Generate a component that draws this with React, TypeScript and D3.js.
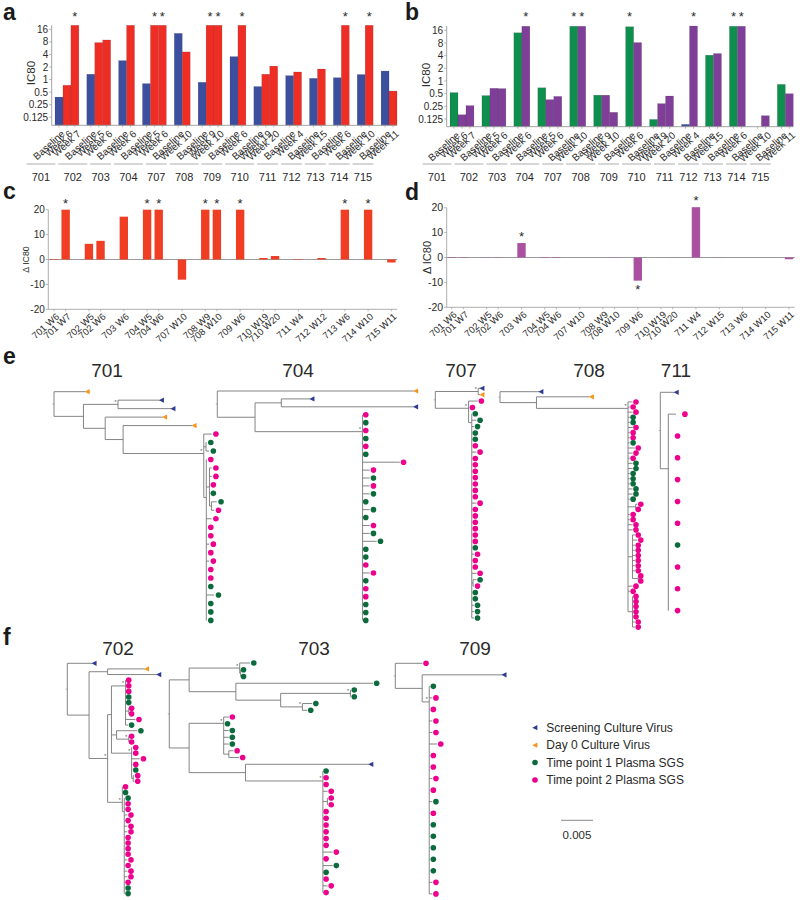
import React from 'react';
import * as d3 from 'd3';

const FONT = '"Liberation Sans", Arial, sans-serif';

// IC80 panels a and b
const patients = ['701', '702', '703', '704', '707', '708', '709', '710', '711', '712', '713', '714', '715'];
const visitWeeks = [
    ['Baseline', 'Week 6', 'Week 7'],
    ['Baseline', 'Week 5', 'Week 6'],
    ['Baseline', 'Week 6'],
    ['Baseline', 'Week 5', 'Week 6'],
    ['Baseline', 'Week 10'],
    ['Baseline', 'Week 9', 'Week 10'],
    ['Baseline', 'Week 6'],
    ['Baseline', 'Week 19', 'Week 20'],
    ['Baseline', 'Week 4'],
    ['Baseline', 'Week 15'],
    ['Baseline', 'Week 6'],
    ['Baseline', 'Week 10'],
    ['Baseline', 'Week 11'],
];
const aValues = [
    [0.38, 0.73, 20], [1.34, 7.7, 8.9], [2.85, 20], [0.8, 20, 20], [12.8, 4.6], [0.86, 20, 20], [3.55, 20],
    [0.68, 1.34, 2.1], [1.24, 1.52], [1.07, 1.79], [1.11, 20], [1.32, 20], [1.6, 0.53],
];
const bValues = [
    [0.53, 0.158, 0.26], [0.45, 0.67, 0.66], [14, 20], [0.69, 0.36, 0.43], [20, 20], [0.46, 0.46, 0.18], [19.5, 8.2],
    [0.122, 0.29, 0.44], [0.093, 20.3], [4.1, 4.5], [20, 20], [0, 0.15], [0.83, 0.5],
];
const aStars = ['701 Week 7', '704 Week 5', '704 Week 6', '708 Week 9', '708 Week 10', '709 Week 6', '713 Week 6', '714 Week 10'];
const bStars = ['703 Week 6', '707 Baseline', '707 Week 10', '709 Baseline', '711 Week 4', '713 Baseline', '713 Week 6'];
const bBlueBars = ['711 Baseline'];
const log2Ticks = [16, 8, 4, 2, 1, 0.5, 0.25, 0.125];

// delta IC80 panels c and d
const cLabels = [
    ['701 W6', '701 W7'], ['702 W5', '702 W6'], ['703 W6'], ['704 W5', '704 W6'], ['707 W10'], ['708 W9', '708 W10'],
    ['709 W6'], ['710 W19', '710 W20'], ['711 W4'], ['712 W12'], ['713 W6'], ['714 W10'], ['715 W11'],
];
const dLabels = [
    ['701 W6', '701 W7'], ['702 W5', '702 W6'], ['703 W6'], ['704 W5', '704 W6'], ['707 W10'], ['708 W9', '708 W10'],
    ['709 W6'], ['710 W19', '710 W20'], ['711 W4'], ['712 W15'], ['713 W6'], ['714 W10'], ['715 W11'],
];
const cValues = [0.2, 20, 6.3, 7.5, 17.2, 20, 20, -8.1, 20, 20, 20, 0.6, 1.4, 0.2, 0.6, 20, 20, -1.2];
const dValues = [-0.2, -0.15, -0.1, -0.1, 5.8, -0.2, -0.2, 0, 0, -0.1, -9.3, 0, 0.1, 20.2, 0.1, 0, 0, -0.7];
const cStars = ['701 W7', '704 W5', '704 W6', '708 W9', '708 W10', '709 W6', '713 W6', '714 W10'];
const dStars = ['703 W6', '709 W6', '711 W4'];
const deltaTicks = [20, 10, 0, -10, -20];

// Trees. Leaf: [depth, kind]. Node: [depth, children, row?, support?]. Depth is divergence x 10^4 from the root.
type Kind = 'p' | 'g' | 's' | 'd';
type TreeNode = [number, Kind] | [number, TreeNode[], (number | null)?, number?];
const P: Kind = 'p';
const G: Kind = 'g';
const S: Kind = 's';
const D: Kind = 'd';

const tree701: TreeNode = [0, [
    [52, D],
    [46, [
        [100, [[168, S], [186, S]], null, 1],
        [80, [
            [173, D],
            [108, [
                [219, D],
                [234, [
                    [253, P],
                    [237.5, [[245, G], [249, G]]],
                    [238, [
                        [245, P],
                        [243, [[253, P], [253, P], [249, P], [249, G], [246, [[261, G], [257, P]]]]],
                        [253, P], [245, P], [245, P], [249, P], [245, P], [249, P], [245, P], [245, P],
                        [245, G], [257, G], [245, G], [245, G], [245, G],
                    ], 12.5],
                ], 7.3, 1],
            ]],
        ]],
    ]],
]];

const tree704: TreeNode = [0, [
    [310, D],
    [59, [
        [100, [[148, S], [310, S]]],
        [227, [
            [232, P], [232, G], [232, P], [232, G], [232, P], [232, G], [291, P], [244, P], [244, G], [244, P], [244, G],
            [232, G], [244, G], [232, G], [244, P], [244, G], [255, G], [232, G], [232, G], [232, P], [244, P], [232, G],
            [232, P], [232, P], [232, G], [232, G], [232, G],
        ], 5.14, 1],
    ]],
]];

const tree707: TreeNode = [0, [
    [67, [[73, S], [73, D]], null, 1],
    [52, [
        [72, P],
        [58, P],
        [57, [
            [62.5, G], [70, G], [66, G], [62.5, G], [62.5, G], [62.5, P], [70, P], [62.5, P], [62.5, P], [62.5, P],
            [62.5, P], [62.5, P], [62.5, P], [62.5, P], [70, P], [62.5, P], [62.5, P], [62.5, P], [62.5, P], [62.5, P],
            [62.5, P], [62.5, G], [66, P], [62.5, P], [62.5, P], [70, P], [59, [[70, G], [66, P]]], [62.5, G], [62.5, G],
            [66, G], [66, G], [66, G],
        ], 5.38],
    ], 3.13, 1],
]];

const tree708: TreeNode = [0, [
    [64, S],
    [57, [
        [143, D],
        [200, [
            [212.5, P], [208, P], [212.5, P], [208, G], [208, G], [212.5, P], [208, P], [208, P], [208, G], [216, P],
            [212.5, P], [208, P], [212.5, G], [212.5, G], [208, G], [208, G], [208, G], [212.5, G], [212.5, G], [208, G],
            [212, [[220, P], [216, P]]], [208, P], [208, P], [212.5, P], [212.5, P],
            [207, [[216, P], [220, P], [216, P], [216, P], [216, P], [216, P], [216, P], [216, P], [216, [[220, P], [220, P]]]]],
            [212.5, P], [208, P],
            [207, [[212.5, P], [212.5, P], [212.5, P], [212.5, P], [212.5, P], [216, P], [216, P]]],
        ], 3.26, 1],
    ]],
]];

const tree711: TreeNode = [0, [
    [25, S],
    [12.5, [[38.5, P], [27, P], [27, P], [27, P], [27, P], [27, P], [27, G], [27, P], [27, P], [27, P]], 3.5],
]];

const tree702: TreeNode = [0, [
    [42, S],
    [34, [
        [63, [[124, D], [143, S]]],
        [63, [
            [69, [
                [91, [
                    [96, P], [96, P], [96, P], [96, G], [96, G], [96, [[100.5, P], [100.5, P]]], [112, P], [100.5, G],
                ], 4.03, 1],
                [77, [[115, G], [96, [[100.5, P], [100.5, P]], null, 1]]],
                [100.5, [
                    [107, P], [107, P], [119, P], [107, P], [107, G], [103, [[110, P], [110, P]]],
                ], 16, 1],
            ], 9.14],
            [86, [
                [91, P],
                [91, G],
                [89, [
                    [95, G], [95, P], [95, P], [99.5, P], [95, P], [99.5, P], [99.5, P], [95, P], [95, P], [95, P], [95, P],
                    [99.5, P], [95, P], [99.5, P], [99.5, P], [95, P], [95, G], [95, G],
                ], 26.4],
            ], 24.75, 1],
        ], null, 1],
    ]],
]];

const tree703: TreeNode = [0, [
    [31, [
        [110, [[132, G], [111.5, [[116, G], [116, G]]]], null, 1],
        [104, [
            [324, G],
            [174, [
                [283, [[289, G], [289, G]], null, 1],
                [208, [[229, G], [221, G]], null, 1],
            ]],
        ]],
    ]],
    [31, [
        [85, [
            [98.5, P], [91, G], [98.5, G], [98.5, G], [98.5, G], [93, [[106, P], [114.6, P]]],
        ], 8.93, 1],
        [119, [
            [315, S],
            [240, [
                [245, G], [245, P], [245, P], [253, P], [247, [[253, P], [253, P]]], [245, P], [245, P], [245, P], [245, P],
                [245, P], [245, P], [261, P], [245, P], [261, G], [245, G], [245, P], [253, P], [245, P],
            ], 17.47, 1],
        ]],
    ]],
]];

const tree709: TreeNode = [0, [
    [48, P],
    [42, [
        [170, S],
        [53, [
            [59.4, G], [63.5, P], [59.4, P], [63.5, P], [63.5, P], [71, P], [59.4, P], [59.4, P], [63.5, P], [59.4, P],
            [63.5, G], [59.4, P], [59.4, G], [59.4, G], [59.4, G], [59.4, G], [59.4, G], [63.5, P], [63.5, P],
        ], 3.35, 1],
    ]],
]];

const treePanels = [
    { name: '701', tree: tree701, x0: 54, y0: 391.7, rowH: 8.47, tx: 107, ty: 377, gap: 4.3 },
    { name: '704', tree: tree704, x0: 217.3, y0: 391, rowH: 7.91, tx: 298, ty: 377, gap: 3.8 },
    { name: '707', tree: tree707, x0: 435.3, y0: 388.3, rowH: 6.38, tx: 461, ty: 377, gap: 3.6 },
    { name: '708', tree: tree708, x0: 500, y0: 391.7, rowH: 5.117, tx: 589, ty: 377, gap: 3.4 },
    { name: '711', tree: tree711, x0: 660.3, y0: 392.3, rowH: 21.83, tx: 676, ty: 377, gap: 9 },
    { name: '702', tree: tree702, x0: 67.3, y0: 663.3, rowH: 5.617, tx: 118, ty: 655, gap: 3.6 },
    { name: '703', tree: tree703, x0: 169.3, y0: 663, rowH: 6.753, tx: 314, ty: 655, gap: 3.6 },
    { name: '709', tree: tree709, x0: 395.3, y0: 663.3, rowH: 11.53, tx: 475, ty: 655, gap: 3.6 },
];

const legendItems: { kind: Kind; label: string }[] = [
    { kind: S, label: 'Screening Culture Virus' },
    { kind: D, label: 'Day 0 Culture Virus' },
    { kind: G, label: 'Time point 1 Plasma SGS' },
    { kind: P, label: 'Time point 2 Plasma SGS' },
];

const KIND_COLOR: Record<Kind, string> = { p: '#ec008c', g: '#0b6b3c', s: '#2e3a92', d: '#f7941d' };
const AXIS_COLOR = '#9a9a9a';
const TEXT_COLOR = '#2a2a2a';

// 0.005 on the scale bar is 32px
const divergence = d3.scaleLinear().domain([0, 50]).range([0, 32]);

const Marker = ({ kind, x, y }: { kind: Kind; x: number; y: number }) => {
    if (kind === 'p' || kind === 'g') return <circle cx={x} cy={y} r={2.8} fill={KIND_COLOR[kind]} />;
    return <path d={`M${x - 2.7},${y}L${x + 2.4},${y - 2.6}L${x + 2.4},${y + 2.6}Z`} fill={KIND_COLOR[kind]} />;
};

const Star = ({ x, y }: { x: number; y: number }) => (
    <text x={x} y={y + 5.5} textAnchor="middle" fontSize={13} fill={TEXT_COLOR}>*</text>
);

const Tree = ({ panel }: { panel: (typeof treePanels)[number] }) => {
    const root = d3.hierarchy<TreeNode>(panel.tree, n => (Array.isArray(n[1]) ? n[1] : null));
    const rows = new Map<d3.HierarchyNode<TreeNode>, number>();
    let nextRow = 0;
    const place = (n: d3.HierarchyNode<TreeNode>): number => {
        let row: number;
        if (n.children) {
            const kids = n.children.map(place);
            row = n.data[2] ?? (kids[0] + kids[kids.length - 1]) / 2;
        } else {
            row = nextRow++;
        }
        rows.set(n, row);
        return row;
    };
    place(root);
    const x = (n: d3.HierarchyNode<TreeNode>) => panel.x0 + divergence(n.data[0]);
    const y = d3.scaleLinear().domain([0, 1]).range([panel.y0, panel.y0 + panel.rowH]);
    const nodes = root.descendants();
    const lineColor = '#777777';
    return (
        <g>
            <text x={panel.tx} y={panel.ty} textAnchor="middle" fontSize={19} fill={TEXT_COLOR}>{panel.name}</text>
            <line x1={panel.x0 - 1.5} x2={panel.x0} y1={y(rows.get(root)!)} y2={y(rows.get(root)!)} stroke={lineColor} strokeWidth={0.6} />
            {nodes.map((n, i) => {
                const leaf = !n.children;
                const kind = n.data[1] as Kind;
                const ny = y(rows.get(n)!);
                const px = n.parent ? x(n.parent) : x(n);
                const gap = leaf ? (kind === 'p' || kind === 'g' ? panel.gap : 2) : 0;
                const endX = Math.max(px, x(n) - gap);
                return (
                    <g key={i}>
                        {n.parent && endX > px && (
                            <line x1={px} x2={endX} y1={ny} y2={ny} stroke={lineColor} strokeWidth={0.9} />
                        )}
                        {n.children && (
                            <line
                                x1={x(n)} x2={x(n)}
                                y1={y(rows.get(n.children[0])!)}
                                y2={y(rows.get(n.children[n.children.length - 1])!)}
                                stroke={lineColor} strokeWidth={0.9}
                            />
                        )}
                        {n.data[3] === 1 && (
                            <text x={x(n) - 2.5} y={ny - 0.5} textAnchor="middle" fontSize={5} fill="#444">*</text>
                        )}
                    </g>
                );
            })}
            {root.leaves().map((n, i) => (
                <Marker key={i} kind={n.data[1] as Kind} x={x(n)} y={y(rows.get(n)!)} />
            ))}
        </g>
    );
};

interface VisitPanelProps {
    values: number[][];
    stars: string[];
    first: string;
    second: string;
    xRange: [number, number];
    axisX: number;
    yRange: [number, number];
    domain: [number, number];
    labelX: number;
    labelY: number;
    groupShift: number;
    starY: number;
    blueBars?: string[];
}

const VisitPanel = ({ values, stars, first, second, xRange, axisX, yRange, domain, labelX, labelY, groupShift, starY, blueBars = [] }: VisitPanelProps) => {
    const slots: string[] = [];
    patients.forEach((p, i) => {
        visitWeeks[i].forEach(w => slots.push(`${p} ${w}`));
        if (i < patients.length - 1) slots.push(`gap ${p}`);
    });
    const x = d3.scaleBand().domain(slots).range(xRange).padding(0);
    const y = d3.scaleLog().base(2).domain(domain).range(yRange);
    const base = yRange[0];
    return (
        <g>
            {patients.map((p, i) =>
                visitWeeks[i].map((w, j) => {
                    const key = `${p} ${w}`;
                    const v = values[i][j];
                    const cx = x(key)! + x.bandwidth() / 2;
                    const fill = blueBars.includes(key) ? '#3c4f9f' : j === 0 ? first : second;
                    return (
                        <g key={key}>
                            {v > 0 && (
                                <rect x={x(key)} y={y(v)} width={x.bandwidth()} height={base - y(v)} fill={fill} stroke="#000" strokeOpacity={0.25} strokeWidth={0.4} />
                            )}
                            <line x1={cx} x2={cx} y1={base} y2={base + 2} stroke={AXIS_COLOR} strokeWidth={0.7} />
                            <text
                                transform={`translate(${cx + 2.5},${base + 5}) rotate(-42)`}
                                textAnchor="end" dy="0.6em" fontSize={10} fill={TEXT_COLOR}
                            >{w}</text>
                            {stars.includes(key) && <Star x={cx} y={starY} />}
                        </g>
                    );
                })
            )}
            <line x1={axisX} x2={xRange[1]} y1={base} y2={base} stroke={AXIS_COLOR} strokeWidth={0.9} />
            <line x1={axisX} x2={axisX} y1={yRange[1]} y2={base} stroke={AXIS_COLOR} strokeWidth={0.9} />
            {log2Ticks.map(t => (
                <g key={t}>
                    <line x1={axisX - 2.5} x2={axisX} y1={y(t)} y2={y(t)} stroke={AXIS_COLOR} strokeWidth={0.7} />
                    <text x={axisX - 3.5} y={y(t)} dy="0.36em" textAnchor="end" fontSize={10} fill={TEXT_COLOR}>{t}</text>
                </g>
            ))}
            <text transform={`translate(${labelX},${labelY}) rotate(-90)`} textAnchor="middle" fontSize={11.5} fill={TEXT_COLOR}>IC80</text>
            {patients.map((p, i) => {
                const firstKey = `${p} ${visitWeeks[i][0]}`;
                const n = visitWeeks[i].length;
                const mid = x(firstKey)! + (n * x.step()) / 2 + groupShift;
                const half = (n * x.step() + 5) / 2;
                return (
                    <g key={p}>
                        <line x1={mid - half} x2={mid + half} y1={164} y2={164} stroke={AXIS_COLOR} strokeWidth={0.8} />
                        <text x={mid} y={181} textAnchor="middle" fontSize={11} fill={TEXT_COLOR}>{p}</text>
                    </g>
                );
            })}
        </g>
    );
};

interface DeltaPanelProps {
    groups: string[][];
    values: number[];
    stars: string[];
    color: string;
    xRange: [number, number];
    axisX: number;
    yRange: [number, number];
    labelX: number;
    labelSize: number;
    tickSize: number;
    starOffset: number;
}

const DeltaPanel = ({ groups, values, stars, color, xRange, axisX, yRange, labelX, labelSize, tickSize, starOffset }: DeltaPanelProps) => {
    const slots: string[] = [];
    groups.forEach((g, i) => {
        slots.push(...g);
        if (i < groups.length - 1) slots.push(`gap ${i}`);
    });
    const labels = groups.flat();
    const x = d3.scaleBand().domain(slots).range(xRange).paddingInner(0.28).paddingOuter(0.14);
    const y = d3.scaleLinear().domain([-20, 20]).range(yRange);
    return (
        <g>
            <line x1={axisX} x2={xRange[1]} y1={y(0)} y2={y(0)} stroke={AXIS_COLOR} strokeWidth={1} />
            <line x1={axisX} x2={xRange[1]} y1={yRange[0]} y2={yRange[0]} stroke={AXIS_COLOR} strokeWidth={0.8} />
            <line x1={axisX} x2={axisX} y1={yRange[1]} y2={yRange[0]} stroke={AXIS_COLOR} strokeWidth={0.8} />
            {labels.map((l, i) => {
                const v = values[i];
                const cx = x(l)! + x.bandwidth() / 2;
                return (
                    <g key={l}>
                        <rect x={x(l)} y={Math.min(y(v), y(0))} width={x.bandwidth()} height={Math.abs(y(v) - y(0))} fill={color} />
                        <line x1={cx} x2={cx} y1={yRange[0]} y2={yRange[0] + 2} stroke={AXIS_COLOR} strokeWidth={0.7} />
                        <text
                            transform={`translate(${cx + 2},${yRange[0] + 4}) rotate(-42)`}
                            textAnchor="end" dy="0.6em" fontSize={9.5} fill={TEXT_COLOR}
                        >{l}</text>
                        {stars.includes(l) && <Star x={cx} y={v >= 0 ? y(v) - starOffset : y(v) + starOffset} />}
                    </g>
                );
            })}
            {deltaTicks.map(t => (
                <g key={t}>
                    <line x1={axisX - 2.5} x2={axisX} y1={y(t)} y2={y(t)} stroke={AXIS_COLOR} strokeWidth={0.7} />
                    <text x={axisX - 3.5} y={y(t)} dy="0.36em" textAnchor="end" fontSize={tickSize} fill={TEXT_COLOR}>{t}</text>
                </g>
            ))}
            <text transform={`translate(${labelX},${y(0)}) rotate(-90)`} textAnchor="middle" fontSize={labelSize} fill={TEXT_COLOR}>Δ IC80</text>
        </g>
    );
};

const App: React.FC = () => {
    const panelLetters = [
        { t: 'a', x: 3, y: 20 }, { t: 'b', x: 405, y: 20 },
        { t: 'c', x: 3, y: 199 }, { t: 'd', x: 405, y: 200 },
        { t: 'e', x: 3, y: 364 }, { t: 'f', x: 3, y: 645 },
    ];
    return (
        <svg width={800} height={900} viewBox="0 0 800 900" fontFamily={FONT} style={{ position: 'absolute', left: 0, top: 0, background: '#fff' }}>
            {panelLetters.map(l => (
                <text key={l.t} x={l.x} y={l.y} fontSize={23} fontWeight="bold" fill="#1a1a1a">{l.t}</text>
            ))}
            <VisitPanel
                values={aValues} stars={aStars} first="#3c4f9f" second="#ee2e24"
                xRange={[55, 397]} axisX={51.7} yRange={[125.3, 25.3]} domain={[0.08, 20]}
                labelX={35} labelY={73} groupShift={-26} starY={15.3}
            />
            <VisitPanel
                values={bValues} stars={bStars} first="#0f8f4d" second="#7f3f98" blueBars={bBlueBars}
                xRange={[450, 793.3]} axisX={446.7} yRange={[126.7, 26]} domain={[0.082, 20.3]}
                labelX={430} labelY={75} groupShift={-25} starY={15.3}
            />
            <DeltaPanel
                groups={cLabels} values={cValues} stars={cStars} color="#ef3e23"
                xRange={[48.2, 397.2]} axisX={48.3} yRange={[309.3, 209.7]}
                labelX={29} labelSize={8.8} tickSize={10} starOffset={7.7}
            />
            <DeltaPanel
                groups={dLabels} values={dValues} stars={dStars} color="#a9519f"
                xRange={[445.9, 794.8]} axisX={446.7} yRange={[307.3, 207.7]}
                labelX={431} labelSize={11} tickSize={10.5} starOffset={8}
            />
            {treePanels.map(p => <Tree key={p.name} panel={p} />)}
            {legendItems.map((item, i) => {
                const rowY = d3.scalePoint<number>().domain([0, 1, 2, 3]).range([727.7, 780])(i)!;
                return (
                    <g key={item.label}>
                        <Marker kind={item.kind} x={535} y={rowY} />
                        <text x={546.3} y={rowY} dy="0.36em" fontSize={12} fill={TEXT_COLOR}>{item.label}</text>
                    </g>
                );
            })}
            <line x1={561} x2={561 + divergence(50)} y1={820.3} y2={820.3} stroke="#555" strokeWidth={0.7} />
            <text x={577} y={839} textAnchor="middle" fontSize={11.5} fill={TEXT_COLOR}>0.005</text>
        </svg>
    );
};

export default App;
